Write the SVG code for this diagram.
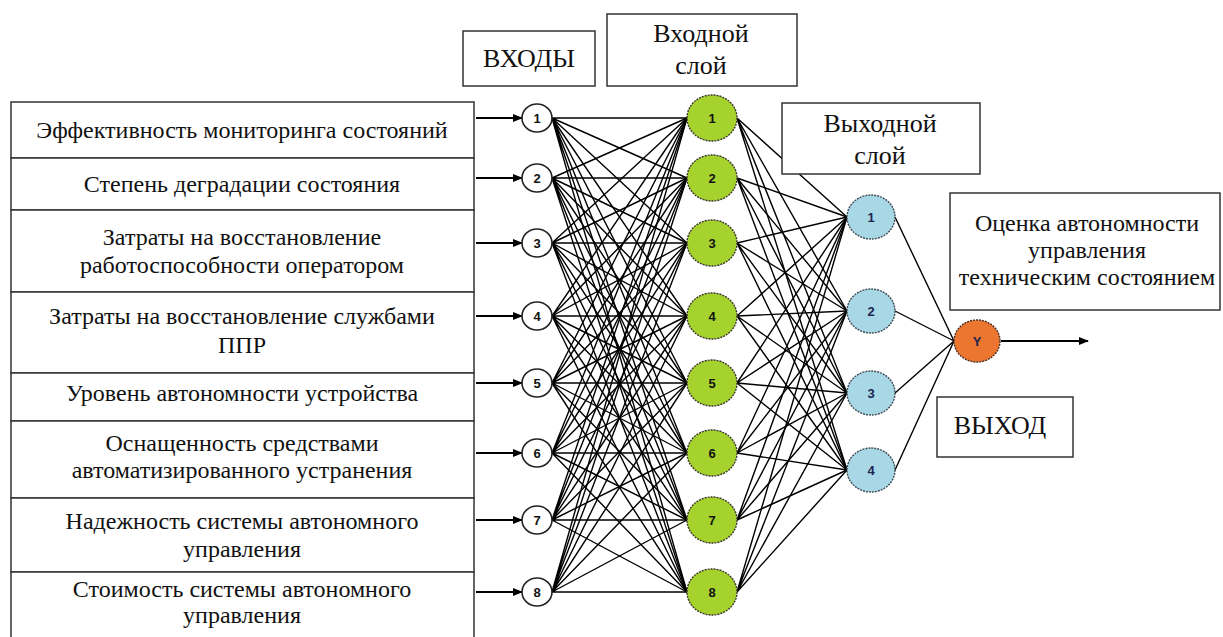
<svg xmlns="http://www.w3.org/2000/svg" width="1223" height="637" viewBox="0 0 1223 637">
<style>
.bg{fill:#ffffff}
.box{fill:#ffffff;stroke:#333333;stroke-width:1.5}
.t{font-family:"Liberation Serif","Times New Roman",serif;font-size:24px;fill:#111111;text-anchor:middle}
.tl{font-family:"Liberation Serif","Times New Roman",serif;font-size:26px;fill:#111111;text-anchor:middle}
.con{fill:none;stroke:#000000;stroke-width:1.4}
.arr{fill:none;stroke:#000000;stroke-width:2}
.inp{fill:#ffffff;stroke:#222222;stroke-width:1.6}
.hid{fill:#a6d22e;stroke:#3a3a2a;stroke-width:1.4;stroke-dasharray:2 1}
.out{fill:#a8d8e6;stroke:#3a4a50;stroke-width:1.4;stroke-dasharray:2 1}
.y{fill:#ec7630;stroke:#4a3020;stroke-width:1.4;stroke-dasharray:2 1}
.n{font-family:"Liberation Sans",Arial,sans-serif;font-size:13px;font-weight:bold;fill:#111111;text-anchor:middle}
.nb{font-family:"Liberation Sans",Arial,sans-serif;font-size:13px;font-weight:bold;fill:#1c2450;text-anchor:middle}
</style>
<defs>
<marker id="ah" markerUnits="userSpaceOnUse" markerWidth="10" markerHeight="8" refX="9" refY="4" orient="auto">
<path d="M0 0L10 4L0 8Z" fill="#000000"/>
</marker>
</defs>
<rect class="bg" x="0" y="0" width="1223" height="637"/>

<g id="connectors">
<path class="con" d="M552 118L687 118M552 118L687 178M552 118L687 243M552 118L687 316M552 118L687 383M552 118L687 453M552 118L687 520M552 118L687 592"/>
<path class="con" d="M552 178L687 118M552 178L687 178M552 178L687 243M552 178L687 316M552 178L687 383M552 178L687 453M552 178L687 520M552 178L687 592"/>
<path class="con" d="M552 243L687 118M552 243L687 178M552 243L687 243M552 243L687 316M552 243L687 383M552 243L687 453M552 243L687 520M552 243L687 592"/>
<path class="con" d="M552 316L687 118M552 316L687 178M552 316L687 243M552 316L687 316M552 316L687 383M552 316L687 453M552 316L687 520M552 316L687 592"/>
<path class="con" d="M552 383L687 118M552 383L687 178M552 383L687 243M552 383L687 316M552 383L687 383M552 383L687 453M552 383L687 520M552 383L687 592"/>
<path class="con" d="M552 453L687 118M552 453L687 178M552 453L687 243M552 453L687 316M552 453L687 383M552 453L687 453M552 453L687 520M552 453L687 592"/>
<path class="con" d="M552 520L687 118M552 520L687 178M552 520L687 243M552 520L687 316M552 520L687 383M552 520L687 453M552 520L687 520M552 520L687 592"/>
<path class="con" d="M552 592L687 118M552 592L687 178M552 592L687 243M552 592L687 316M552 592L687 383M552 592L687 453M552 592L687 520M552 592L687 592"/>
<path class="con" d="M737 118L847 217M737 118L847 311M737 118L847 393M737 118L847 470"/>
<path class="con" d="M737 178L847 217M737 178L847 311M737 178L847 393M737 178L847 470"/>
<path class="con" d="M737 243L847 217M737 243L847 311M737 243L847 393M737 243L847 470"/>
<path class="con" d="M737 316L847 217M737 316L847 311M737 316L847 393M737 316L847 470"/>
<path class="con" d="M737 383L847 217M737 383L847 311M737 383L847 393M737 383L847 470"/>
<path class="con" d="M737 453L847 217M737 453L847 311M737 453L847 393M737 453L847 470"/>
<path class="con" d="M737 520L847 217M737 520L847 311M737 520L847 393M737 520L847 470"/>
<path class="con" d="M737 592L847 217M737 592L847 311M737 592L847 393M737 592L847 470"/>
<path class="con" d="M895 217L954 341M895 311L954 341M895 393L954 341M895 470L954 341"/>
<line class="arr" x1="476" y1="118" x2="522" y2="118" marker-end="url(#ah)"/>
<line class="arr" x1="476" y1="178" x2="522" y2="178" marker-end="url(#ah)"/>
<line class="arr" x1="476" y1="243" x2="522" y2="243" marker-end="url(#ah)"/>
<line class="arr" x1="476" y1="316" x2="522" y2="316" marker-end="url(#ah)"/>
<line class="arr" x1="476" y1="383" x2="522" y2="383" marker-end="url(#ah)"/>
<line class="arr" x1="476" y1="453" x2="522" y2="453" marker-end="url(#ah)"/>
<line class="arr" x1="476" y1="520" x2="522" y2="520" marker-end="url(#ah)"/>
<line class="arr" x1="476" y1="592" x2="522" y2="592" marker-end="url(#ah)"/>
<line class="arr" x1="1001" y1="341" x2="1088" y2="341" marker-end="url(#ah)"/>
</g>

<g id="box1"><rect class="box" x="11" y="102" width="463" height="56"/><text class="t" x="242" y="138">Эффективность мониторинга состояний</text></g>
<g id="box2"><rect class="box" x="11" y="158" width="463" height="52"/><text class="t" x="242" y="192">Степень деградации состояния</text></g>
<g id="box3"><rect class="box" x="11" y="210" width="463" height="82"/><text class="t" x="242" y="245">Затраты на восстановление</text><text class="t" x="242" y="273">работоспособности оператором</text></g>
<g id="box4"><rect class="box" x="11" y="292" width="463" height="81"/><text class="t" x="242" y="324">Затраты на восстановление службами</text><text class="t" x="242" y="353">ППР</text></g>
<g id="box5"><rect class="box" x="11" y="373" width="463" height="48"/><text class="t" x="242" y="401">Уровень автономности устройства</text></g>
<g id="box6"><rect class="box" x="11" y="421" width="463" height="77"/><text class="t" x="242" y="451">Оснащенность средствами</text><text class="t" x="242" y="478">автоматизированного устранения</text></g>
<g id="box7"><rect class="box" x="11" y="498" width="463" height="74"/><text class="t" x="242" y="529">Надежность системы автономного</text><text class="t" x="242" y="557">управления</text></g>
<g id="box8"><rect class="box" x="11" y="572" width="463" height="70"/><text class="t" x="242" y="597">Стоимость системы автономного</text><text class="t" x="242" y="623">управления</text></g>

<g id="label-inputs"><rect class="box" x="463" y="31" width="132" height="55"/><text class="tl" x="529" y="67">ВХОДЫ</text></g>
<g id="label-input-layer"><rect class="box" x="607" y="14" width="190" height="72"/><text class="tl" x="701" y="42">Входной</text><text class="tl" x="701" y="74">слой</text></g>
<g id="label-output-layer"><rect class="box" x="782" y="103" width="198" height="71"/><text class="tl" x="880" y="132">Выходной</text><text class="tl" x="880" y="164">слой</text></g>
<g id="label-estimate"><rect class="box" x="950" y="193" width="270" height="117"/><text class="t" x="1087" y="231">Оценка автономности</text><text class="t" x="1087" y="258">управления</text><text class="t" x="1087" y="285">техническим состоянием</text></g>
<g id="label-output"><rect class="box" x="937" y="397" width="136" height="60"/><text class="tl" x="1000" y="434">ВЫХОД</text></g>

<g id="in1"><ellipse class="inp" cx="537" cy="118" rx="15" ry="14"/><text class="n" x="537" y="123">1</text></g>
<g id="in2"><ellipse class="inp" cx="537" cy="178" rx="15" ry="14"/><text class="n" x="537" y="183">2</text></g>
<g id="in3"><ellipse class="inp" cx="537" cy="243" rx="15" ry="14"/><text class="n" x="537" y="248">3</text></g>
<g id="in4"><ellipse class="inp" cx="537" cy="316" rx="15" ry="14"/><text class="n" x="537" y="321">4</text></g>
<g id="in5"><ellipse class="inp" cx="537" cy="383" rx="15" ry="14"/><text class="n" x="537" y="388">5</text></g>
<g id="in6"><ellipse class="inp" cx="537" cy="453" rx="15" ry="14"/><text class="n" x="537" y="458">6</text></g>
<g id="in7"><ellipse class="inp" cx="537" cy="520" rx="15" ry="14"/><text class="n" x="537" y="525">7</text></g>
<g id="in8"><ellipse class="inp" cx="537" cy="592" rx="15" ry="14"/><text class="n" x="537" y="597">8</text></g>

<g id="h1"><ellipse class="hid" cx="712" cy="118" rx="25" ry="23"/><text class="n" x="712" y="123">1</text></g>
<g id="h2"><ellipse class="hid" cx="712" cy="178" rx="25" ry="23"/><text class="n" x="712" y="183">2</text></g>
<g id="h3"><ellipse class="hid" cx="712" cy="243" rx="25" ry="23"/><text class="n" x="712" y="248">3</text></g>
<g id="h4"><ellipse class="hid" cx="712" cy="316" rx="25" ry="23"/><text class="n" x="712" y="321">4</text></g>
<g id="h5"><ellipse class="hid" cx="712" cy="383" rx="25" ry="23"/><text class="n" x="712" y="388">5</text></g>
<g id="h6"><ellipse class="hid" cx="712" cy="453" rx="25" ry="23"/><text class="n" x="712" y="458">6</text></g>
<g id="h7"><ellipse class="hid" cx="712" cy="520" rx="25" ry="23"/><text class="n" x="712" y="525">7</text></g>
<g id="h8"><ellipse class="hid" cx="712" cy="592" rx="25" ry="23"/><text class="n" x="712" y="597">8</text></g>

<g id="o1"><ellipse class="out" cx="871" cy="217" rx="24" ry="22"/><text class="nb" x="871" y="222">1</text></g>
<g id="o2"><ellipse class="out" cx="871" cy="311" rx="24" ry="22"/><text class="nb" x="871" y="316">2</text></g>
<g id="o3"><ellipse class="out" cx="871" cy="393" rx="24" ry="22"/><text class="nb" x="871" y="398">3</text></g>
<g id="o4"><ellipse class="out" cx="871" cy="470" rx="24" ry="22"/><text class="nb" x="871" y="475">4</text></g>

<g id="y"><ellipse class="y" cx="977" cy="341" rx="23" ry="21"/><text class="nb" x="977" y="346">Y</text></g>
</svg>
